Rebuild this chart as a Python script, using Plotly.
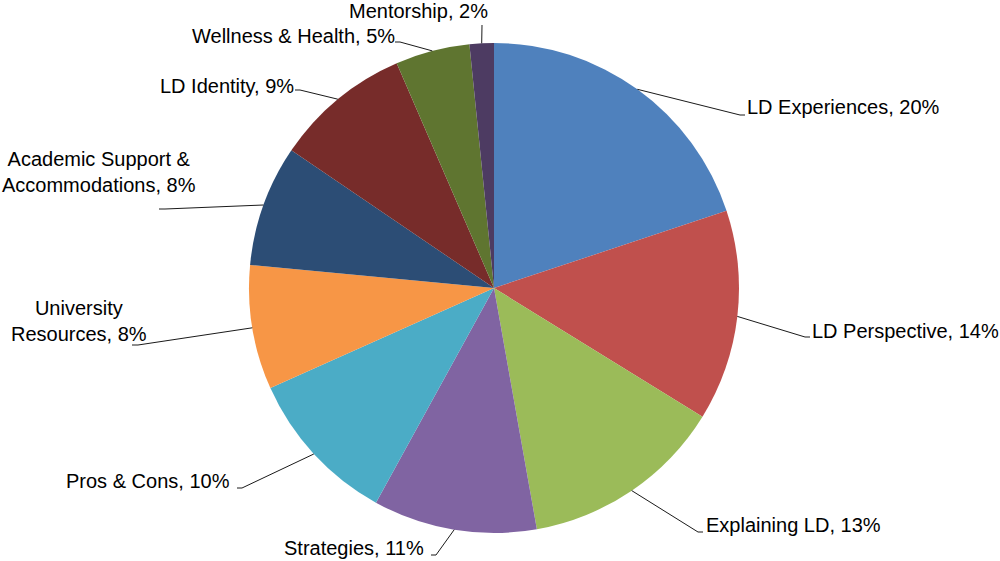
import math
import plotly.graph_objects as go

# --- Data ---
labels = [
    "LD Experiences", "LD Perspective", "Explaining LD", "Strategies",
    "Pros & Cons", "University Resources", "Academic Support & Accommodations",
    "LD Identity", "Wellness & Health", "Mentorship",
]
values = [19.9, 13.9, 13.4, 10.8, 10.3, 8.2, 8.0, 9.0, 4.9, 1.6]
colors = [
    "#4F81BD", "#C0504D", "#9BBB59", "#8064A2", "#4BACC6",
    "#F79646", "#2C4D75", "#772C2A", "#5F7530", "#4D3B62",
]
# how each label is broken over lines
label_text = [
    "LD Experiences", "LD Perspective", "Explaining LD", "Strategies",
    "Pros & Cons", "University<br>Resources", "Academic Support &<br>Accommodations",
    "LD Identity", "Wellness & Health", "Mentorship",
]

# --- Layout (pixels in a 1000x561 frame) ---
W, H = 1000, 561
CX, CY, R = 494, 288, 245
# elbow of the leader line, text anchor x/y, text side
label_layout = [
    (740, 115, 745, 107, "left"),
    (805, 337, 810, 331, "left"),
    (698, 532, 704, 525, "left"),
    (436, 555, 426, 548, "right"),
    (242, 488, 232, 481, "right"),
    (138, 345, 79, 321, "center"),
    (165, 209, 99, 172, "center"),
    (300, 90, 296, 86, "right"),
    (400, 42, 397, 36, "right"),
    (482, 25, 490, 11, "right"),
]

fig = go.Figure()

fig.add_trace(go.Pie(
    labels=labels,
    values=values,
    sort=False,
    direction="clockwise",
    rotation=0,
    textinfo="none",
    hoverinfo="skip",
    marker=dict(colors=colors, line=dict(width=0)),
    domain=dict(x=[(CX - R) / W, (CX + R) / W], y=[1 - (CY + R) / H, 1 - (CY - R) / H]),
    showlegend=False,
))

# --- Leader lines + labels ---
total = sum(values)
cum = 0
for i, v in enumerate(values):
    mid = (cum + v / 2) / total * 2 * math.pi
    cum += v
    ex, ey = CX + R * math.sin(mid), CY - R * math.cos(mid)
    bx, by, tx, ty, side = label_layout[i]
    pct = round(v / total * 100)
    if side == "left":
        tail = bx + 5
    elif side == "right":
        tail = bx - 5
    else:
        tail = bx - 6
    if i == 9:
        tail = bx
    fig.add_shape(type="path", xref="x", yref="y",
                  path=f"M {ex:.1f},{ey:.1f} L {bx},{by} L {tail},{by}",
                  line=dict(color="#1a1a1a", width=1))
    fig.add_annotation(
        x=tx, y=ty, xref="x", yref="y",
        text=f"{label_text[i]}, {pct}%",
        showarrow=False,
        xanchor=side, yanchor="middle", align="center",
        font=dict(family="Liberation Sans, Arial", size=20, color="#000000"),
    )

fig.update_layout(
    width=W, height=H,
    margin=dict(l=0, r=0, t=0, b=0),
    paper_bgcolor="white",
    plot_bgcolor="rgba(0,0,0,0)",
    xaxis=dict(range=[0, W], visible=False, fixedrange=True),
    yaxis=dict(range=[H, 0], visible=False, fixedrange=True),
)

# drop the page's default 8px body margin so the chart fills the window
fig.write_html(
    "out.html",
    config={"displayModeBar": False},
    post_script="document.body.style.margin='0';",
)
